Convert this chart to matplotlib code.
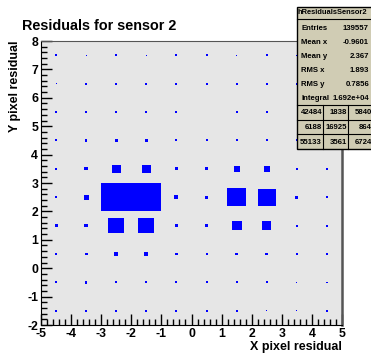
import numpy as np
import matplotlib
matplotlib.use("Agg")
import matplotlib.pyplot as plt
from matplotlib.patches import Rectangle
from matplotlib.ticker import MultipleLocator

plt.rcParams['font.family'] = ['Liberation Sans', 'DejaVu Sans']
plt.rcParams['font.weight'] = 'bold'
plt.rcParams['axes.unicode_minus'] = False

# bin edges (10 x 10 bins)
x_edges = np.arange(-5, 6, 1)
y_edges = np.arange(-2, 9, 1)

# bin contents, rows from y=-1.5 (bottom) up to y=7.5 (top), columns x=-4.5 .. 4.5
counts = np.array([
    [95, 95, 95, 95, 95, 95, 95, 45, 45, 95],          # y = -1.5
    [95, 115, 95, 95, 95, 95, 95, 95, 45, 70],         # y = -0.5
    [95, 140, 185, 185, 140, 95, 140, 140, 95, 95],    # y =  0.5
    [140, 185, 740, 740, 140, 140, 465, 415, 95, 95],  # y =  1.5
    [115, 230, 1390, 1385, 185, 160, 880, 835, 140, 95],  # y = 2.5
    [95, 160, 415, 415, 140, 140, 280, 280, 70, 95],   # y =  3.5
    [95, 115, 140, 140, 95, 95, 95, 95, 95, 95],       # y =  4.5
    [95, 95, 95, 95, 95, 45, 95, 95, 45, 95],          # y =  5.5
    [45, 95, 95, 95, 95, 95, 95, 95, 95, 95],          # y =  6.5
    [95, 45, 95, 45, 95, 95, 45, 95, 45, 95],          # y =  7.5
])

hist_name = "hResidualsSensor2"
stat_labels = ["Entries", "Mean x", "Mean y", "RMS x", "RMS y", "Integral"]
stat_values = ["139557", "-0.9601", "2.367", "1.893", "0.7856", "1.692e+04"]
overflow = [["42484", "1838", "5840"],
            ["6188", "16925", "864"],
            ["55133", "3561", "6724"]]

W, H = 371, 354
fig = plt.figure(figsize=(W / 100, H / 100), dpi=100, facecolor='white')

def fx(px):
    return px / W

def fy(py):
    return 1 - py / H

ax = fig.add_axes([fx(41), fy(325), (342 - 41) / W, (325 - 41) / H])
ax.set_facecolor('#e6e6e6')
ax.set_xlim(x_edges[0], x_edges[-1])
ax.set_ylim(y_edges[0], y_edges[-1])

# ROOT style boxes: side proportional to content / max
zmax = counts.max()
for j in range(len(y_edges) - 1):
    for i in range(len(x_edges) - 1):
        f = counts[j, i] / zmax
        xc = 0.5 * (x_edges[i] + x_edges[i + 1])
        yc = 0.5 * (y_edges[j] + y_edges[j + 1])
        w = f * (x_edges[i + 1] - x_edges[i])
        h = f * (y_edges[j + 1] - y_edges[j])
        ax.add_patch(Rectangle((xc - w / 2, yc - h / 2), w, h,
                               facecolor='#0000ff', edgecolor='none'))

ax.xaxis.set_major_locator(MultipleLocator(1))
ax.xaxis.set_minor_locator(MultipleLocator(0.2))
ax.yaxis.set_major_locator(MultipleLocator(1))
ax.yaxis.set_minor_locator(MultipleLocator(0.2))
ax.tick_params(which='both', direction='in', top=False, right=False, width=1)
ax.tick_params(which='major', length=8, labelsize=8.8, pad=2)
ax.tick_params(which='minor', length=4)
for lab in ax.get_xticklabels() + ax.get_yticklabels():
    lab.set_fontweight('bold')

ax.spines['left'].set_color('black')
ax.spines['bottom'].set_color('black')
ax.spines['top'].set_color('#555555')
ax.spines['right'].set_color('#555555')
ax.spines['right'].set_linewidth(1.8)

ax.set_xlabel('X pixel residual', fontsize=9, fontweight='bold', ha='right', va='center')
ax.xaxis.set_label_coords(1.0, -0.079)
ax.set_ylabel('Y pixel residual', fontsize=9, fontweight='bold', ha='right', va='center')
ax.yaxis.set_label_coords(-0.086, 1.0)

fig.text(fx(22), fy(30), 'Residuals for sensor 2', fontsize=10.4,
         fontweight='bold', ha='left', va='baseline')

# stats box
box_fc = '#d0ccb4'
left, right, top, bottom = 297, 380, 7, 149
fig.add_artist(Rectangle((fx(left), fy(bottom)), (right - left) / W, (bottom - top) / H,
                         transform=fig.transFigure, facecolor=box_fc,
                         edgecolor='black', linewidth=1))

def hline(py):
    fig.add_artist(plt.Line2D([fx(left), fx(right)], [fy(py), fy(py)],
                              transform=fig.transFigure, color='black', linewidth=0.8))

def vline(px, y0, y1):
    fig.add_artist(plt.Line2D([fx(px), fx(px)], [fy(y0), fy(y1)],
                              transform=fig.transFigure, color='black', linewidth=0.8))

hline(18.5)
hline(105)
hline(120)
hline(134)
vline(323, 105, bottom)
vline(348, 105, bottom)

fig.text(fx(298), fy(12.5), hist_name, fontsize=5.4, fontweight='bold',
         ha='left', va='center')
row_y = [29, 42, 56, 71, 85, 99]
for lab, val, yy in zip(stat_labels, stat_values, row_y):
    fig.text(fx(301), fy(yy), lab, fontsize=5.6, fontweight='bold', ha='left', va='center')
    fig.text(fx(369), fy(yy), val, fontsize=5.6, fontweight='bold', ha='right', va='center')

grid_y = [113, 127, 142]
grid_x = [322, 347, 372]
for r, yy in enumerate(grid_y):
    for c, xx in enumerate(grid_x):
        fig.text(fx(xx), fy(yy), overflow[r][c], fontsize=5.6, fontweight='bold',
                 ha='right', va='center')

fig.savefig('out.png', dpi=100)
